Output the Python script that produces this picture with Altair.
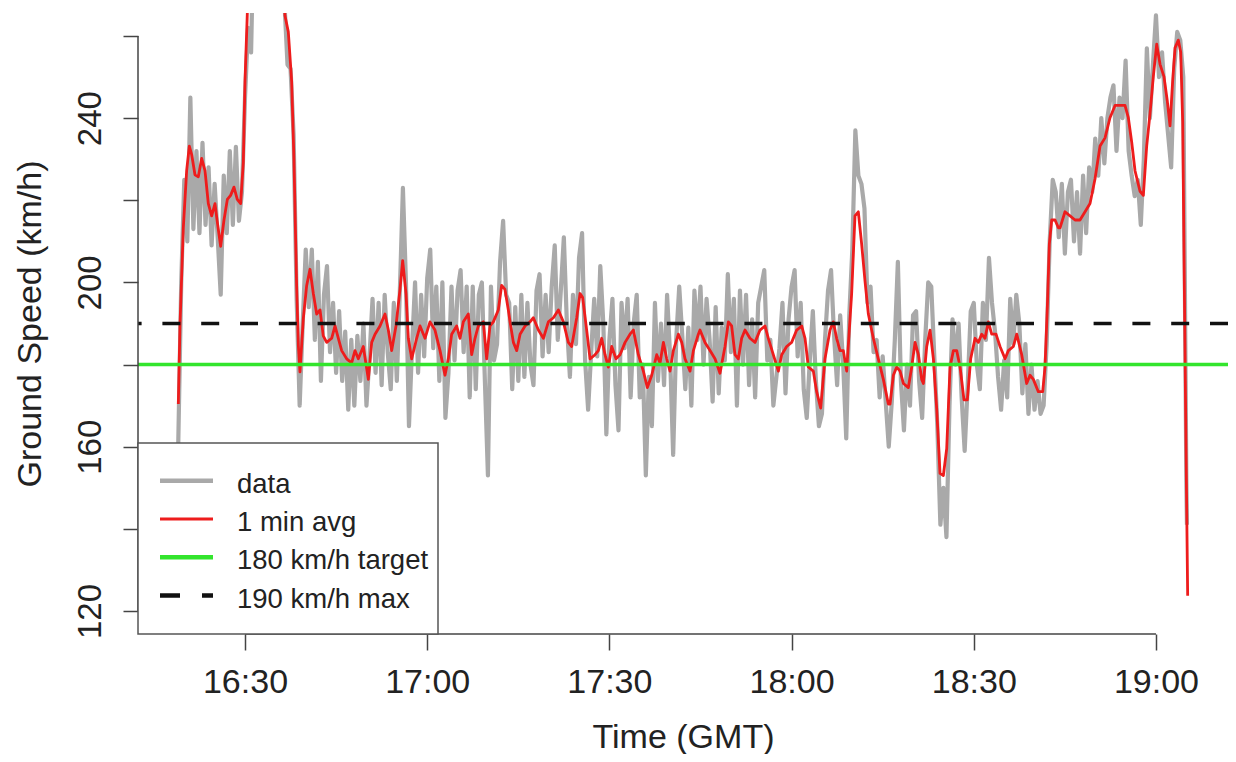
import altair as alt
import pandas as pd

# ---------------- data (minutes after 16:00 GMT, km/h) ----------------
GRAY_START = 19.0
GRAY_STEP = 0.5
gray_v = [
    160, 200, 225, 210, 245, 213, 232, 212, 234, 214,
    228, 209, 224, 211, 197, 226, 212, 232, 214, 233,
    215, 222, 245, 262, 256, 292, 305, 310, 314, 316,
    312, 306, 298, 290, 280, 268, 253, 252, 236, 196,
    170, 190, 208, 194, 208, 186, 205, 176, 197,
    204, 183, 195, 178, 193, 176, 188, 169, 186, 170,
    187, 176, 190, 170, 182, 196, 178, 195, 175, 197,
    183, 174, 195, 176, 198, 223, 200, 165, 184, 200,
    178, 197, 182, 201, 208, 184, 199, 176, 200, 167,
    178, 199, 181, 198, 203, 183, 199, 172, 199, 174,
    197, 200, 176, 153, 199, 181, 185, 205, 215, 197,
    195, 174, 194, 176,
    197, 177, 195, 180, 175, 198, 202, 182, 197, 183,
    199, 209, 186, 198, 211, 190, 177, 197, 185, 206,
    212, 181, 169, 183, 196, 182, 204, 190, 163, 186,
    196, 175, 164, 195, 184, 196, 172, 190, 197, 172,
    180, 153, 177, 165, 195, 176, 190, 175, 197, 182,
    158, 186, 199, 187, 174, 189, 170, 198, 186, 199,
    180, 196,
    186, 171, 194, 173, 189, 181, 202, 183, 196, 170,
    198, 180, 197, 175, 191, 172, 195, 199, 203, 181,
    186, 170, 177, 184, 195, 173, 191, 199, 203, 182,
    195, 174, 167, 181, 193, 176, 165, 168, 186, 198,
    203, 187, 175, 192, 180, 162, 192, 208, 237, 226,
    224, 218, 195, 199, 183, 186, 172, 182, 171, 160,
    171, 186, 205, 176, 164, 180, 170, 192, 193, 176,
    167, 186, 200, 199, 182, 165, 141, 150, 138, 170,
    191, 180, 190, 172, 159, 175, 193, 195, 180, 174,
    195, 186, 206, 195, 188, 177, 169, 181, 172, 196,
    185, 197, 190, 173, 185, 168, 180, 169, 176, 168,
    170, 185, 210, 225, 222, 211,
    224, 207, 222, 225, 210, 222, 207, 226, 212, 228,
    222, 235, 226, 240, 229, 240, 245, 248, 232, 245,
    240, 254, 232, 226, 221, 225, 214, 230, 257, 240,
    253, 265, 250, 256, 244, 236, 228, 252, 261, 259,
    250, 152,
]
gray_tail_t = [185.1]
gray_tail_v = [141]

red_t = [
    19.02, 19.29, 19.84, 20.39, 20.83, 21.21, 21.76, 22.31, 22.86, 23.41,
    23.96, 24.51, 25.06, 25.44, 25.99, 26.54, 27.09, 27.63, 28.18, 28.73,
    29.28, 29.72, 30.0, 30.38, 31.0, 32.0, 33.0, 34.0, 35.0, 36.0,
    36.58, 37.13, 37.68, 38.06, 38.5, 38.78, 39.05, 39.6, 40.15, 40.7,
    41.25, 41.8, 42.35, 42.89,
    43.45, 44.27, 44.82, 45.37, 45.92, 46.74, 47.56, 48.11, 48.66, 49.48,
    50.31, 50.86, 51.41, 52.23, 53.05, 53.6, 54.15, 54.86, 55.52, 55.96,
    56.51, 56.89, 57.44, 58.27, 58.82, 59.64, 60.46, 61.28, 62.11, 62.93,
    63.48, 64.03, 64.85, 65.4, 65.95, 66.77, 67.32, 67.87, 68.42, 69.24,
    69.79, 70.34, 70.89, 71.71, 72.26, 72.81, 73.36,
    73.64, 74.19, 74.74, 75.29, 76.11, 76.93, 77.48, 78.31, 79.13, 79.95,
    80.78, 81.6, 82.42, 83.24, 83.79, 84.62, 85.17, 85.6, 86.26, 86.81,
    87.64, 88.18, 88.73, 89.28, 89.83, 90.38, 91.09, 91.75, 92.58, 93.4,
    93.95, 94.77, 95.59, 96.25, 96.97, 97.79, 98.34, 98.89, 99.44, 99.98,
    100.53, 101.36, 101.91, 102.45, 103.28, 103.83, 104.65,
    104.92, 105.74, 106.57, 107.39, 108.21, 109.04, 109.59, 110.13, 110.68, 111.23,
    111.78, 112.33, 113.15, 113.98, 114.8, 115.62, 116.17, 116.99, 117.82, 118.37,
    119.19, 120.01, 120.84, 121.66, 122.21, 122.76, 123.58, 124.13, 124.79, 125.5,
    126.33, 126.87, 127.42, 127.97, 128.52, 129.07, 129.89, 130.44, 130.99, 131.54,
    132.09, 132.64, 133.46, 134.28, 135.11, 135.93,
    136.21, 136.76, 137.31, 137.86, 138.41, 139.23, 139.78, 140.33, 140.88, 141.42,
    141.7, 142.25, 142.8, 143.35, 143.89, 144.44, 144.99, 145.54, 146.09, 146.64,
    147.19, 147.74, 148.39, 148.94, 149.49, 150.21, 150.75, 151.3, 151.85, 152.4,
    152.95, 153.66, 154.32, 155.15, 155.69, 156.52, 157.07, 157.89, 158.71, 159.26,
    159.81, 160.63, 161.35, 161.73, 162.12, 162.44, 162.83, 163.38, 163.93,
    164.2, 165.02, 165.85, 166.67, 167.49, 168.32, 169.14, 169.96, 170.79, 171.61,
    172.43, 173.26, 174.08, 174.9, 175.45, 176.0, 176.55, 177.37, 177.92, 178.47,
    179.02, 179.56, 180.12, 180.67, 181.32, 181.87, 182.31, 182.75, 183.14, 183.68,
    184.07, 184.4, 184.67, 184.95, 185.22,
]
red_v = [
    170.4, 189.4, 213.3, 227.2, 233.2, 231.2, 226.2, 225.7, 230.2, 227.2,
    219.2, 216.2, 219.2, 214.7, 208.8, 215.2, 220.2, 221.2, 223.2, 220.2,
    219.2, 229.2, 249.1, 265.5, 285, 300, 308, 310, 300, 280,
    265, 261, 249, 230, 199.2, 184.7, 178.2, 191.2, 199.2, 203.2,
    197.3, 192.3, 193.3, 187.0,
    185.4, 186.4, 189.4, 186.4, 183.4, 181.4, 180.4, 183.4, 181.4, 184.4,
    176.4, 185.4, 187.4, 189.4, 192.3, 188.4, 183.4, 189.4, 198.3, 205.3,
    197.3, 186.4, 181.4, 186.4, 189.4, 186.4, 190.4, 188.4, 183.4, 177.4,
    181.4, 187.4, 189.4, 186.4, 190.4, 192.3, 182.4, 186.4, 189.4, 190.4,
    181.4, 189.4, 190.4, 193.3, 199.3, 198.3, 193.3,
    190.4, 185.4, 183.4, 187.4, 189.4, 190.4, 191.4, 188.4, 186.4, 190.4,
    191.4, 193.3, 190.4, 185.4, 184.4, 191.4, 197.3, 196.3, 188.4, 181.4,
    182.4, 183.4, 186.4, 182.4, 179.4, 184.4, 181.4, 182.4, 185.4, 187.4,
    188.4, 182.4, 178.4, 174.4, 177.4, 182.4, 180.4, 185.4, 181.4, 178.4,
    183.4, 187.4, 185.4, 181.4, 178.4, 183.4, 187.4,
    188.4, 185.4, 183.4, 181.4, 177.9, 184.4, 190.4, 189.4, 182.4, 181.4,
    186.4, 188.4, 186.4, 185.4, 188.4, 189.4, 186.4, 182.4, 178.4, 182.4,
    184.4, 185.4, 188.4, 189.4, 186.4, 179.4, 178.4, 173.4, 169.4, 181.4,
    188.4, 190.4, 186.4, 183.4, 183.4, 178.4, 197.3, 216.2, 217.2, 209.3,
    200.3, 192.3, 186.4, 181.4, 176.4, 170.4,
    170.4, 177.4, 179.4, 178.4, 175.4, 174.4, 179.4, 185.4, 182.4, 176.4,
    175.4, 184.4, 188.4, 181.4, 169.4, 153.5, 153.0, 159.5, 179.4, 183.4,
    183.4, 179.4, 171.4, 171.4, 181.4, 186.4, 185.4, 187.4, 186.4, 190.4,
    187.4, 187.4, 184.4, 181.4, 183.4, 184.4, 187.4, 182.4, 175.4, 177.4,
    176.4, 173.4, 173.4, 179.4, 194.3, 209.3, 215.2, 215.2, 213.3,
    213.3, 217.2, 216.2, 215.2, 215.2, 217.2, 219.2, 225.2, 233.2, 235.2,
    240.1, 243.1, 243.1, 243.1, 240.1, 234.2, 227.2, 222.2, 221.2, 233.2,
    241.1, 250.1, 258.0, 253.1, 250.1, 244.1, 238.1, 249.1, 257.1, 259.0,
    256.1, 239.1, 199.3, 159.5, 123.7,
]

TARGET = 180
MAX_SPEED = 190
x_ticks = [30, 60, 90, 120, 150, 180]
y_ticks = [120, 140, 160, 180, 200, 220, 240, 260]
legend_labels = ["data", "1 min avg", "180 km/h target", "190 km/h max"]

# ---------------- styling ----------------
GRAY = "#a9a9a9"
RED = "#ee1c1c"
GREEN = "#33e52d"
BLACK = "#111111"
AXIS = "#444444"
FONT = "Liberation Sans"
W, H = 1090, 621

gray_t = [GRAY_START + i * GRAY_STEP for i in range(len(gray_v))] + gray_tail_t
gray_df = pd.DataFrame({"t": gray_t, "v": gray_v + gray_tail_v})
red_df = pd.DataFrame({"t": red_t, "v": red_v})
one = pd.DataFrame({"k": [0]})

xscale = alt.Scale(domain=[12.38, 191.86], nice=False, zero=False)
yscale = alt.Scale(domain=[114.4, 265.6], nice=False, zero=False)

x_axis = alt.Axis(
    values=x_ticks,
    labelExpr="(16 + floor(datum.value / 60)) + ':' + (datum.value % 60 == 0 ? '00' : '' + (datum.value % 60))",
    domain=False, grid=False, tickSize=16, tickWidth=1.5, tickColor=AXIS,
    labelFont=FONT, labelFontSize=34, labelColor="#222", labelBaseline="alphabetic",
    labelPadding=42, labelFlush=False, labelOverlap=False,
    title="Time (GMT)", titleFont=FONT, titleFontSize=34, titleFontWeight="normal",
    titleColor="#222", titleBaseline="alphabetic", titleY=113,
)
y_axis = alt.Axis(
    values=y_ticks,
    labelExpr="datum.value % 40 == 0 ? datum.label : ''",
    domain=False, grid=False, tickSize=15, tickWidth=1.5, tickColor=AXIS,
    labelFont=FONT, labelFontSize=33, labelColor="#222", labelAngle=270,
    labelAlign="center", labelBaseline="alphabetic", labelPadding=23,
    labelOverlap=False, labelFlush=False,
    title="Ground Speed (km/h)", titleFont=FONT, titleFontSize=34,
    titleFontWeight="normal", titleColor="#222", titleAngle=270,
    titleBaseline="alphabetic", titleAlign="center", titleX=-98, titleY=H / 2,
)

gray_line = alt.Chart(gray_df).mark_line(
    color=GRAY, strokeWidth=4.2, strokeJoin="round", clip=True
).encode(
    x=alt.X("t:Q", scale=xscale, axis=x_axis),
    y=alt.Y("v:Q", scale=yscale, axis=y_axis),
)
red_line = alt.Chart(red_df).mark_line(
    color=RED, strokeWidth=2.8, strokeJoin="round", clip=True
).encode(x="t:Q", y="v:Q")

target_rule = alt.Chart(one).mark_rule(color=GREEN, strokeWidth=3.5).encode(
    y=alt.datum(TARGET)
)
max_rule = alt.Chart(one).mark_rule(
    color=BLACK, strokeWidth=3.5, strokeDash=[18, 20.8]
).encode(y=alt.datum(MAX_SPEED))

# R-style axis lines spanning first to last tick
y_axis_line = alt.Chart(one).mark_rule(color=AXIS, strokeWidth=1.5).encode(
    x=alt.value(0), y=alt.datum(y_ticks[0]), y2=alt.datum(y_ticks[-1])
)
x_axis_line = alt.Chart(one).mark_rule(color=AXIS, strokeWidth=1.5).encode(
    x=alt.datum(x_ticks[0]), x2=alt.datum(x_ticks[-1]), y=alt.value(H)
)

# legend box (bottom-left, like R's legend)
LX0, LX1, LY0 = 0, 300, 430
row_y = [467.7, 506.0, 544.3, 582.6]
sample_x0, sample_x1, text_x = 22, 75, 99
legend_box = alt.Chart(one).mark_rect(
    fill="white", stroke="#555555", strokeWidth=1.5
).encode(x=alt.value(LX0), x2=alt.value(LX1), y=alt.value(LY0), y2=alt.value(H))

samples = [
    dict(color=GRAY, strokeWidth=4.5),
    dict(color=RED, strokeWidth=3),
    dict(color=GREEN, strokeWidth=4.5),
    dict(color=BLACK, strokeWidth=4.5, strokeDash=[20, 22]),
]
legend_layers = [legend_box]
for yy, lab, st in zip(row_y, legend_labels, samples):
    legend_layers.append(
        alt.Chart(one).mark_rule(**st).encode(
            x=alt.value(sample_x0), x2=alt.value(sample_x1), y=alt.value(yy)
        )
    )
    legend_layers.append(
        alt.Chart(one).mark_text(
            text=lab, align="left", baseline="alphabetic", font=FONT,
            fontSize=27.5, color="#222"
        ).encode(x=alt.value(text_x), y=alt.value(yy + 12))
    )

chart = alt.layer(
    gray_line, red_line, target_rule, max_rule, y_axis_line, x_axis_line,
    *legend_layers
).properties(
    width=W, height=H,
    autosize=alt.AutoSizeParams(type="none"),
    padding={"left": 130, "top": 5, "right": 0, "bottom": 120},
    background="white",
).configure_view(stroke=None)

chart.save("out.html", embed_options={"renderer": "svg", "actions": False})
